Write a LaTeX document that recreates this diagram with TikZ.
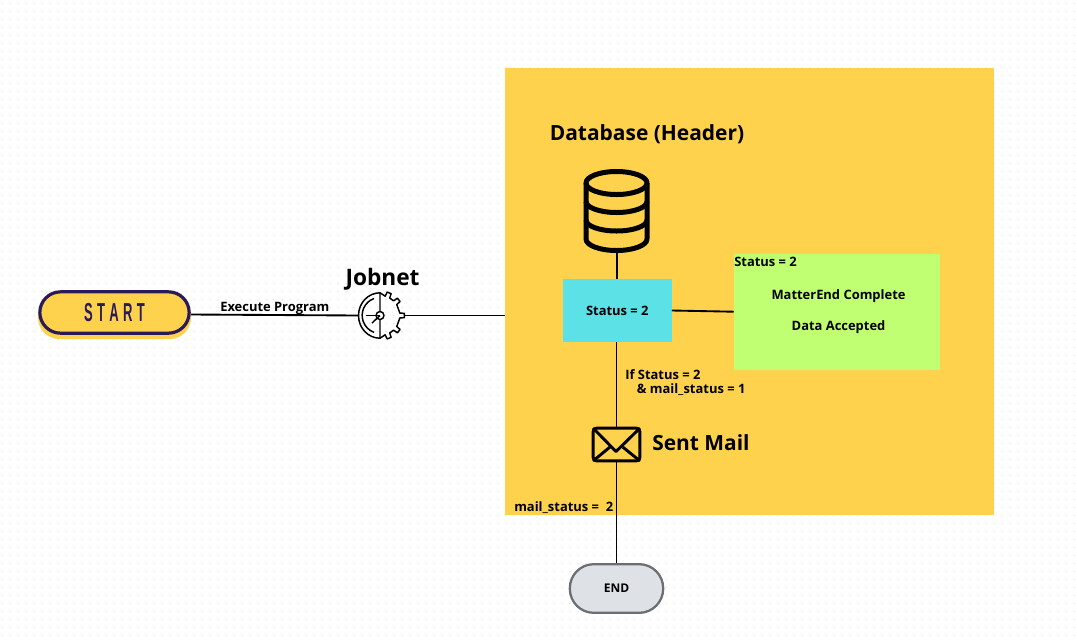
\documentclass[tikz,border=0pt]{standalone}
\usepackage{fontspec}
\setmainfont{Open Sans}
\newfontfamily\startfont[FakeStretch=0.5]{Liberation Sans}
\usetikzlibrary{positioning}
\definecolor{panelyellow}{HTML}{FFD24D}
\definecolor{startnavy}{HTML}{2A1B57}
\definecolor{statuscyan}{HTML}{5CE1E6}
\definecolor{notegreen}{HTML}{C1FF72}
\definecolor{endgrey}{HTML}{DEE1E6}
\definecolor{endedge}{HTML}{6B6E73}
\definecolor{griddot}{HTML}{E8E8E8}
\tikzset{
	smalltext/.style={font=\fontsize{9.7}{11}\selectfont\bfseries,inner sep=0pt},
	bigtext/.style={font=\fontsize{15.7}{18}\selectfont\bfseries,inner sep=0pt},
	wire/.style={line width=1.4pt,black},
	dbline/.style={line width=3.75pt,black,line join=round},
	gearline/.style={line width=1.1pt,black,line join=round},
	mailline/.style={line width=2.2pt,black,line join=round},
}
\begin{document}
\begin{tikzpicture}[x=.75pt,y=-.75pt]
	\useasboundingbox(0,0)rectangle(1077,643);
	\fill[white](0,0)rectangle(1077,643);
	% dotted page
	\foreach \j in {0,...,79}{
		\draw[griddot,line width=1.4pt,line cap=round,dash pattern=on 0pt off 6pt]({2},{3.5+8*\j})--(1077,{3.5+8*\j});
	}
	\fill[panelyellow](505,68)rectangle(994,515);
	% start
	\fill[panelyellow,rounded corners=16pt](38,296)rectangle(191,339);
	\node[draw=startnavy,fill=panelyellow,line width=2.4pt,rounded corners=15.5pt,minimum width=112pt,minimum height=31pt,inner sep=0pt,
		font=\startfont\fontsize{19.5}{20}\selectfont\bfseries,text=startnavy](start)at(114.5,312.5){S\,T\,A\,R\,T};
	\coordinate(startout)at(191,314.5);
	% jobnet icon
	\coordinate(jobnet)at(380,315.5);
	\node[minimum width=32pt,minimum height=30pt,inner sep=0pt](gear)at(jobnet){};
	\draw[gearline](380,292.8)arc(270:90:21.5 and 22.7)--cycle;
	\draw[gearline](374,298.5)arc(250:110:18 and 18);
	\draw[gearline](380,292.8)
		\foreach \a in {-68,-40,0,40,68}{
			--({380+20*cos(\a-7)},{315.5+20*sin(\a-7)})--({380+24.5*cos(\a-5)},{315.5+24.5*sin(\a-5)})
			--({380+24.5*cos(\a+5)},{315.5+24.5*sin(\a+5)})--({380+20*cos(\a+7)},{315.5+20*sin(\a+7)})
		}--(380,338.2);
	\fill[white](380,315.5)circle(4);
	\draw[gearline](380,315.5)circle(4);
	\draw[line width=1.1pt,black](380,315.5)--(372,323);
	\draw[line width=1.1pt,black](380,315.5)--(366,315.5);
	\coordinate(gearout)at(404,315.5);
	\node[bigtext,font=\fontsize{17}{18}\selectfont\bfseries](jobnetlabel)at(382.5,279){Jobnet};
	% database icon
	\draw[dbline](616.5,183)ellipse(30.5 and 11.5);
	\draw[dbline](586,183)--(586,239)arc(180:0:30.5 and 11.5)--(647,183);
	\draw[dbline](586,201.5)arc(180:0:30.5 and 11);
	\draw[dbline](586,220)arc(180:0:30.5 and 11);
	\coordinate(dbfoot)at(617,252);
	\node[bigtext](dblabel)at(647,134.5){Database (Header)};
	% boxes
	\node[fill=statuscyan,minimum width=81.5pt,minimum height=47.25pt,inner sep=0pt,smalltext](status)at(617.3,310.5){\raisebox{-.6pt}{Status = 2}};
	\node[fill=notegreen,minimum width=154.5pt,minimum height=87pt,inner sep=0pt](note)at(837,311.7){};
	\node[smalltext,anchor=west](notetag)at(734,262){Status = 2};
	\node[smalltext](notea)at(838.5,296){MatterEnd Complete};
	\node[smalltext](noteb)at(838.5,327){Data Accepted};
	% mail icon
	\node[draw=black,mailline,rounded corners=2.5pt,minimum width=35pt,minimum height=24.5pt,inner sep=0pt](mail)at(616.5,444.5){};
	\draw[mailline]([xshift=1pt,yshift=-1pt]mail.north west)--(616,451.5)--([xshift=-1pt,yshift=-1pt]mail.north east);
	\draw[mailline]([xshift=1pt,yshift=1pt]mail.south west)--(610,447);
	\draw[mailline]([xshift=-1pt,yshift=1pt]mail.south east)--(622.7,447);
	\node[bigtext,anchor=west](maillabel)at(652,442.5){Sent Mail};
	% end
	\node[draw=endedge,fill=endgrey,line width=1.7pt,rounded corners=18pt,minimum width=70pt,minimum height=36.5pt,inner sep=0pt,
		font=\fontsize{9}{10}\selectfont\bfseries](endnode)at(616.5,588.5){END};
	% connectors
	\coordinate(panelleft)at(505,315.5);
	\draw[wire](startout)--(gear.west);
	\draw[wire](gearout)--(panelleft);
	\draw[wire](dbfoot)--(dbfoot|-status.north);
	\draw[wire](status.east)--(note.west);
	\draw[wire](mail.north|-status.south)--(mail.north);
	\draw[wire](mail.south)--(endnode.north);
	% labels
	\node[smalltext,anchor=west](runlabel)at(220,308){Execute Program};
	\node[smalltext,anchor=west](condlabel)at(625,375){If Status = 2};
	\node[smalltext,anchor=west](condlabelb)at(636.5,390){\& mail\_status = 1};
	\node[smalltext,anchor=west](sentlabel)at(514,508){mail\_status =\ \ 2};
\end{tikzpicture}
\end{document}
